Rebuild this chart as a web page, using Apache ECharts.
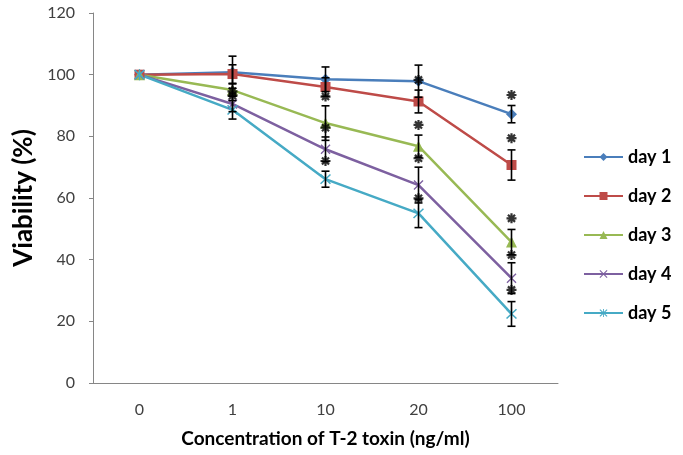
<!DOCTYPE html>
<html>
<head>
<meta charset="utf-8">
<script src="https://cdn.jsdelivr.net/npm/echarts@6/dist/echarts.min.js"></script>
<style>html,body{margin:0;padding:0;background:#fff;}#c{width:683px;height:455px;}</style>
</head>
<body>
<div id="c"></div>
<script>
var categories = ['0', '1', '10', '20', '100'];
var yTicks = [0, 20, 40, 60, 80, 100, 120];
var seriesNames = ['day 1', 'day 2', 'day 3', 'day 4', 'day 5'];
var day1 = [100, 100.8, 98.5, 97.9, 87.2];
var day2 = [100, 100.2, 96.0, 91.3, 70.7];
var day3 = [100, 95.0, 84.3, 76.8, 45.7];
var day4 = [100, 90.5, 75.8, 64.2, 34.0];
var day5 = [100, 88.6, 66.1, 55.0, 22.4];
var err1 = [0, 5.2, 4.0, 5.2, 2.8];
var err2 = [0, 3.0, 3.0, 3.7, 4.9];
var err3 = [0, 2.0, 5.6, 3.6, 4.1];
var err4 = [0, 2.5, 4.0, 5.8, 5.0];
var err5 = [0, 3.0, 2.6, 4.6, 4.0];
// significance asterisks: category index and value
var astCat = [1, 1, 2, 2, 2, 3, 3, 3, 3, 4, 4, 4, 4, 4];
var astVal = [94.6, 93.2, 92.9, 82.8, 72.0, 98.3, 83.7, 72.9, 59.9, 93.4, 79.4, 53.4, 41.5, 30.2];

var colors = ['#4A7EBB', '#BE4B48', '#98B954', '#7D60A0', '#46AAC5'];
var values = [day1, day2, day3, day4, day5];
var errs = [err1, err2, err3, err4, err5];

var astPath = 'path://M0 7.8L20 7.8L20 12.2L0 12.2Z M7.8 0L12.2 0L12.2 20L7.8 20Z M4.485 1.373L18.627 15.515L15.515 18.627L1.373 4.485Z M18.627 4.485L4.485 18.627L1.373 15.515L15.515 1.373Z';
var xPath = 'path://M2.5 0.7L19.3 17.5L17.5 19.3L0.7 2.5Z M17.5 0.7L19.3 2.5L2.5 19.3L0.7 17.5Z';
var starPath = 'path://M2.5 0.7L19.3 17.5L17.5 19.3L0.7 2.5Z M17.5 0.7L19.3 2.5L2.5 19.3L0.7 17.5Z M9 0L11 0L11 20L9 20Z';
var symbols = ['diamond', 'rect', 'triangle', xPath, starPath];
var symSizes = [11, 10, 11, 10, 11];

var font = 'Lato, "Liberation Sans", sans-serif';
var series = [];
for (var i = 0; i < 5; i++) {
  series.push({
    name: seriesNames[i],
    type: 'line',
    data: values[i],
    symbol: symbols[i],
    symbolSize: symSizes[i],
    showAllSymbol: true,
    lineStyle: { color: colors[i], width: 2.5 },
    itemStyle: { color: colors[i], borderWidth: 0 },
    z: 2,
    animation: false
  });
}
for (var j = 0; j < 5; j++) {
  var ed = [];
  for (var k = 0; k < categories.length; k++) {
    if (errs[j][k] > 0) ed.push([k, values[j][k], errs[j][k]]);
  }
  series.push({
    type: 'custom',
    z: 3,
    silent: true,
    animation: false,
    renderItem: function (params, api) {
      var x = api.value(0), v = api.value(1), e = api.value(2);
      var top = api.coord([x, v + e]);
      var bot = api.coord([x, v - e]);
      var hw = 4;
      var st = { stroke: '#000', lineWidth: 1.6 };
      return {
        type: 'group',
        children: [
          { type: 'line', shape: { x1: top[0], y1: top[1], x2: bot[0], y2: bot[1] }, style: st },
          { type: 'line', shape: { x1: top[0] - hw, y1: top[1], x2: top[0] + hw, y2: top[1] }, style: st },
          { type: 'line', shape: { x1: bot[0] - hw, y1: bot[1], x2: bot[0] + hw, y2: bot[1] }, style: st }
        ]
      };
    },
    encode: { x: 0, y: 1 },
    data: ed
  });
}
var astData = [];
for (var a = 0; a < astCat.length; a++) astData.push([astCat[a], astVal[a]]);
series.push({
  type: 'scatter',
  data: astData,
  symbol: astPath,
  symbolSize: 10,
  itemStyle: { color: '#000' },
  z: 4,
  silent: true,
  animation: false
});

var chart = echarts.init(document.getElementById('c'), null, { renderer: 'canvas' });
chart.setOption({
  animation: false,
  backgroundColor: '#fff',
  grid: { left: 93, top: 13, width: 465, height: 370, containLabel: false },
  legend: {
    data: seriesNames,
    orient: 'vertical',
    left: 578,
    top: 143,
    itemWidth: 39,
    itemHeight: 10,
    itemGap: 21,
    textStyle: { fontFamily: font, fontWeight: 'bold', fontSize: 18, color: '#000', lineHeight: 18 }
  },
  xAxis: {
    type: 'category',
    data: categories,
    boundaryGap: true,
    name: 'Concentration of T-2 toxin (ng/ml)',
    nameLocation: 'middle',
    nameGap: 46,
    nameTextStyle: { fontFamily: font, fontWeight: 'bold', fontSize: 19, color: '#000' },
    axisLine: { lineStyle: { color: '#868686', width: 1 } },
    axisTick: { show: false },
    axisLabel: { fontFamily: font, fontSize: 16, color: '#404040', margin: 19 },
    splitLine: { show: false }
  },
  yAxis: {
    type: 'value',
    min: 0,
    max: 120,
    interval: 20,
    name: 'Viability (%)',
    nameLocation: 'middle',
    nameGap: 56,
    nameTextStyle: { fontFamily: font, fontWeight: 'bold', fontSize: 26, color: '#000' },
    axisLine: { show: true, lineStyle: { color: '#868686', width: 1 } },
    axisTick: { show: true, length: 4, inside: false, lineStyle: { color: '#868686' } },
    axisLabel: {
      fontFamily: font, fontSize: 16, color: '#404040', margin: 18,
      formatter: function (v) { return yTicks.indexOf(v) >= 0 ? String(v) : ''; }
    },
    splitLine: { show: false }
  },
  series: series
});
</script>
</body>
</html>
